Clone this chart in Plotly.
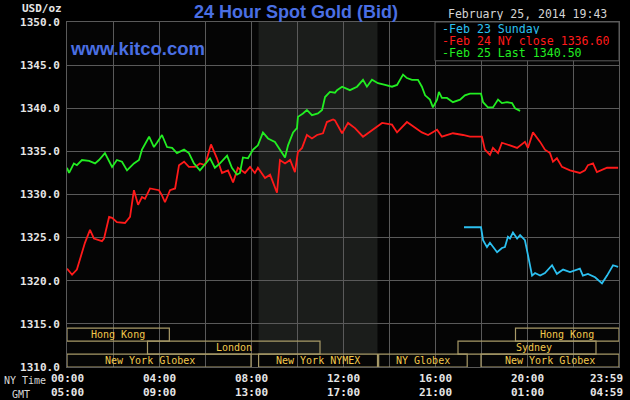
import plotly.graph_objects as go

W, H = 630, 400
ML, MR, MT, MB = 67, 11, 22, 33

# ---------------- data (NY time in hours, price USD/oz) ----------------
feb24_t = [0.00, 0.22, 0.43, 0.57, 0.78, 1.00, 1.17, 1.52, 1.61, 1.83, 1.96, 2.17, 2.52, 2.74,
           2.91, 3.09, 3.26, 3.39, 3.61, 4.00, 4.13, 4.26, 4.48, 4.70, 4.87, 5.09, 5.30, 5.57,
           5.78, 6.00, 6.26, 6.52, 6.74, 7.00, 7.22, 7.43, 7.74, 7.96, 8.17, 8.30, 8.61, 8.83,
           9.04, 9.13, 9.26, 9.48, 9.70, 9.91, 10.04, 10.22, 10.43, 10.65, 10.87, 11.13, 11.30,
           11.57, 11.65, 11.96, 12.22, 12.52, 12.87, 13.30, 13.70, 14.13, 14.35, 14.78, 15.13,
           15.43, 15.70, 16.09, 16.30, 16.78, 17.22, 17.52, 18.04, 18.17, 18.39, 18.52, 18.74,
           18.91, 19.26, 19.57, 19.91, 20.04, 20.26, 20.57, 20.78, 21.00, 21.13, 21.30, 21.52,
           21.87, 22.30, 22.52, 22.65, 22.87, 23.04, 23.48, 23.96]
feb24_v = [1321.4, 1320.7, 1321.3, 1322.6, 1324.4, 1325.9, 1324.9, 1324.6, 1324.9, 1327.4, 1327.3,
           1326.8, 1326.7, 1327.4, 1330.5, 1328.8, 1329.7, 1329.5, 1330.7, 1330.5, 1329.9, 1329.1,
           1330.5, 1330.7, 1333.4, 1333.8, 1333.2, 1333.2, 1333.6, 1333.4, 1335.8, 1334.2, 1332.5,
           1332.8, 1331.4, 1333.1, 1332.5, 1333.2, 1332.5, 1333.1, 1331.9, 1332.3, 1330.7, 1330.2,
           1334.0, 1333.6, 1334.0, 1332.6, 1334.9, 1335.4, 1336.9, 1336.5, 1336.9, 1337.1, 1338.4,
           1338.7, 1338.6, 1337.1, 1338.3, 1337.7, 1336.7, 1337.5, 1338.3, 1338.1, 1337.2, 1338.4,
           1337.8, 1337.2, 1336.9, 1337.5, 1336.7, 1337.1, 1336.9, 1336.7, 1336.7, 1335.2, 1334.6,
           1335.4, 1334.8, 1336.0, 1335.7, 1335.4, 1336.1, 1335.4, 1337.2, 1336.1, 1335.2, 1334.8,
           1333.8, 1334.2, 1333.2, 1332.8, 1332.5, 1332.8, 1333.4, 1333.6, 1332.6, 1333.1, 1333.1]

feb25_t = [0.00, 0.09, 0.30, 0.43, 0.65, 0.96, 1.22, 1.39, 1.65, 1.96, 2.17, 2.39, 2.61, 2.91,
           3.13, 3.26, 3.57, 3.78, 3.91, 4.13, 4.35, 4.57, 4.78, 5.09, 5.30, 5.52, 5.78, 5.87,
           6.00, 6.22, 6.43, 6.65, 6.96, 7.17, 7.39, 7.52, 7.65, 7.87, 8.09, 8.30, 8.52, 8.74,
           9.04, 9.26, 9.48, 9.61, 9.83, 10.00, 10.04, 10.26, 10.43, 10.65, 10.91, 11.09, 11.22,
           11.43, 11.65, 11.74, 11.96, 12.30, 12.61, 12.87, 13.04, 13.26, 13.52, 13.83, 14.13,
           14.35, 14.61, 14.78, 15.00, 15.26, 15.43, 15.57, 15.78, 15.91, 16.09, 16.17, 16.30,
           16.52, 16.78, 17.09, 17.30, 17.52, 18.00, 18.09, 18.30, 18.52, 18.74, 18.91, 19.13,
           19.35, 19.48, 19.70]
feb25_v = [1333.1, 1332.5, 1333.6, 1333.4, 1334.0, 1333.9, 1333.6, 1334.0, 1334.8, 1333.2, 1334.0,
           1333.8, 1332.8, 1333.6, 1334.0, 1335.2, 1336.7, 1335.5, 1336.0, 1336.9, 1335.5, 1335.4,
           1334.8, 1335.2, 1334.8, 1333.6, 1332.8, 1333.1, 1333.6, 1334.2, 1333.1, 1333.6, 1334.5,
           1333.1, 1332.3, 1332.5, 1334.3, 1334.2, 1335.2, 1335.7, 1337.2, 1336.5, 1336.1, 1335.2,
           1334.3, 1335.7, 1337.2, 1337.7, 1339.0, 1339.4, 1339.8, 1339.2, 1339.4, 1339.8, 1341.3,
           1341.9, 1341.8, 1342.1, 1342.5, 1342.1, 1342.5, 1343.3, 1342.5, 1343.3, 1342.9, 1342.7,
           1342.5, 1342.7, 1343.9, 1343.5, 1343.3, 1343.3, 1342.5, 1341.5, 1341.0, 1340.1, 1341.0,
           1341.9, 1341.2, 1341.2, 1340.7, 1341.0, 1341.5, 1341.7, 1341.7, 1340.7, 1340.1, 1340.1,
           1341.0, 1340.6, 1340.7, 1340.6, 1340.0, 1339.7]

feb23_t = [17.26, 18.00, 18.09, 18.26, 18.39, 18.70, 18.91, 19.04, 19.17, 19.26, 19.39, 19.57,
           19.70, 19.91, 20.04, 20.22, 20.35, 20.57, 20.78, 21.09, 21.30, 21.57, 21.87, 22.09,
           22.30, 22.43, 22.65, 22.96, 23.26, 23.48, 23.74, 23.96]
feb23_v = [1326.2, 1326.2, 1324.7, 1323.9, 1324.4, 1323.3, 1323.8, 1323.9, 1325.1, 1324.9, 1325.6,
           1324.9, 1325.3, 1324.7, 1323.0, 1320.6, 1320.9, 1320.6, 1320.9, 1321.8, 1320.8, 1321.3,
           1321.0, 1321.2, 1321.4, 1320.6, 1320.8, 1320.4, 1319.7, 1320.6, 1321.8, 1321.6]

series_names = ["Feb 23 Sunday", "Feb 24 NY close 1336.60", "Feb 25 Last 1340.50"]

x_grid = [0, 2, 4, 6, 8, 10, 12, 14, 16, 18, 20, 22, 24]
x_label_hours = [0, 4, 8, 12, 16, 20, 24]
ny_labels = ["00:00", "04:00", "08:00", "12:00", "16:00", "20:00", "23:59"]
gmt_labels = ["05:00", "09:00", "13:00", "17:00", "21:00", "01:00", "04:59"]
y_ticks = [1310, 1315, 1320, 1325, 1330, 1335, 1340, 1345, 1350]

# trading sessions: name, start hour, end hour, row (0 = top)
session_names = ["Hong Kong", "Hong Kong", "London", "Sydney",
                 "New York Globex", "New York NYMEX", "NY Globex", "New York Globex"]
session_start = [0.0, 19.5, 3.5, 17.0, 0.0, 8.33, 13.55, 18.0]
session_end = [4.45, 24.0, 11.0, 23.0, 8.0, 13.5, 17.4, 24.0]
session_row = [0, 0, 1, 1, 2, 2, 2, 2]
nymex_open, nymex_close = 8.33, 13.5

# ---------------- styles ----------------
MONO = "DejaVu Sans Mono"
SANS = "Liberation Sans, Arial"
C_RED, C_GREEN, C_CYAN = "#ff1a1a", "#22ee22", "#2cc0f0"
GRID = "#5a5a5a"
BOX = "#a89a68"
BOXTXT = "#f2c84c"
BLUE = "#4a6fe3"


def px(x):
    return (x - ML) / (W - ML - MR)


def py(y):
    return (H - MB - y) / (H - MT - MB)


fig = go.Figure()
for t, v, c in [(feb23_t, feb23_v, C_CYAN), (feb24_t, feb24_v, C_RED), (feb25_t, feb25_v, C_GREEN)]:
    fig.add_trace(go.Scatter(x=t, y=v, mode="lines", line=dict(color=c, width=1.8),
                             showlegend=False, hoverinfo="skip"))

shapes = []
# NYMEX shading
shapes.append(dict(type="rect", xref="x", yref="y", x0=nymex_open, x1=nymex_close,
                   y0=1311.5, y1=1350, fillcolor="#1b1d1b", line=dict(width=0), layer="below"))
# sessions
row_top = [1314.5, 1313.0, 1311.5]
row_h = 1.5
annotations = []
for name, s, e, r in zip(session_names, session_start, session_end, session_row):
    y1 = row_top[r]
    y0 = y1 - row_h
    shapes.append(dict(type="rect", xref="x", yref="y", x0=s, x1=e, y0=y0, y1=y1,
                       fillcolor="rgba(0,0,0,0)", line=dict(color=BOX, width=1.2), layer="above"))
    cx = (s + e) / 2
    if name == "Sydney":
        cx = 20.3
    if name == "New York Globex" and s == 0:
        cx = 3.6
    annotations.append(dict(x=cx, y=(y0 + y1) / 2, xref="x", yref="y", text=name, showarrow=False,
                            font=dict(family=MONO, size=10, color=BOXTXT), xanchor="center",
                            yanchor="middle"))

# legend box
shapes.append(dict(type="rect", xref="x", yref="y", x0=16.0, x1=24, y0=1345.5, y1=1350,
                   fillcolor="#000000", line=dict(color=GRID, width=1), layer="above"))
for i, (name, c) in enumerate(zip(series_names, [C_CYAN, C_RED, C_GREEN])):
    annotations.append(dict(x=px(441), y=py(28.8 + 12.2 * i), xref="paper", yref="paper",
                            text="-" + name, showarrow=False, xanchor="left", yanchor="middle",
                            borderpad=0, height=10, valign="middle",
                            font=dict(family=MONO, size=11.6, color=c)))

# x labels
for h, a, b in zip(x_label_hours, ny_labels, gmt_labels):
    last = h == x_label_hours[-1]
    annotations.append(dict(x=h, y=0, xref="x", yref="paper",
                            text="<b>" + a + "</b><br><b>" + b + "</b>",
                            showarrow=False, xanchor="right" if last else "center",
                            xshift=6 if last else 0, yanchor="top", yshift=-3,
                            font=dict(family=MONO, size=11, color="#e6e6e6")))
annotations.append(dict(x=px(2), y=py(380), xref="paper", yref="paper", text="NY Time",
                        showarrow=False, xanchor="left", yanchor="middle",
                        font=dict(family=MONO, size=10, color="#d8d8d8")))
annotations.append(dict(x=px(21), y=py(394), xref="paper", yref="paper", text="GMT",
                        showarrow=False, xanchor="center", yanchor="middle",
                        font=dict(family=MONO, size=10, color="#d8d8d8")))
annotations.append(dict(x=px(20), y=py(8), xref="paper", yref="paper", text="<b>USD/oz</b>",
                        showarrow=False, xanchor="left", yanchor="middle",
                        font=dict(family=MONO, size=11, color="#e6e6e6")))
# titles
annotations.append(dict(x=px(296), y=py(12), xref="paper", yref="paper",
                        text="<b>24 Hour Spot Gold (Bid)</b>", showarrow=False, xanchor="center",
                        yanchor="middle", font=dict(family=SANS, size=18, color=BLUE)))
annotations.append(dict(x=px(68), y=py(48), xref="paper", yref="paper",
                        text="<b>www.kitco.com</b>", showarrow=False, xanchor="left",
                        yanchor="middle", font=dict(family=SANS, size=18.5, color=BLUE)))
annotations.append(dict(x=px(608), y=py(14), xref="paper", yref="paper",
                        text="February 25, 2014 19:43", showarrow=False, xanchor="right",
                        yanchor="middle", height=12, borderpad=0,
                        font=dict(family=MONO, size=11.5, color="#d4d4d4")))

fig.update_layout(
    width=W, height=H, margin=dict(l=ML, r=MR, t=MT, b=MB),
    paper_bgcolor="#000000", plot_bgcolor="#050505",
    shapes=shapes, annotations=annotations, showlegend=False,
    xaxis=dict(range=[0, 24], tickvals=x_grid, showticklabels=False, showgrid=True,
               gridcolor=GRID, gridwidth=1, zeroline=False, showline=True, linecolor=GRID,
               mirror=True, ticks=""),
    yaxis=dict(range=[1310, 1350], tickvals=y_ticks, ticktext=[f"<b>{v:.1f}</b>" for v in y_ticks],
               showgrid=True, gridcolor=GRID, gridwidth=1, zeroline=False, showline=True,
               linecolor=GRID, mirror=True, ticks="outside", ticklen=4,
               tickcolor="rgba(0,0,0,0)",
               tickfont=dict(family=MONO, size=11, color="#e6e6e6")),
)
fig.write_html("out.html", config={"displayModeBar": False, "staticPlot": True},
               post_script="document.body.style.margin='0';document.body.style.padding='0';"
                           "document.body.style.background='#000';")
